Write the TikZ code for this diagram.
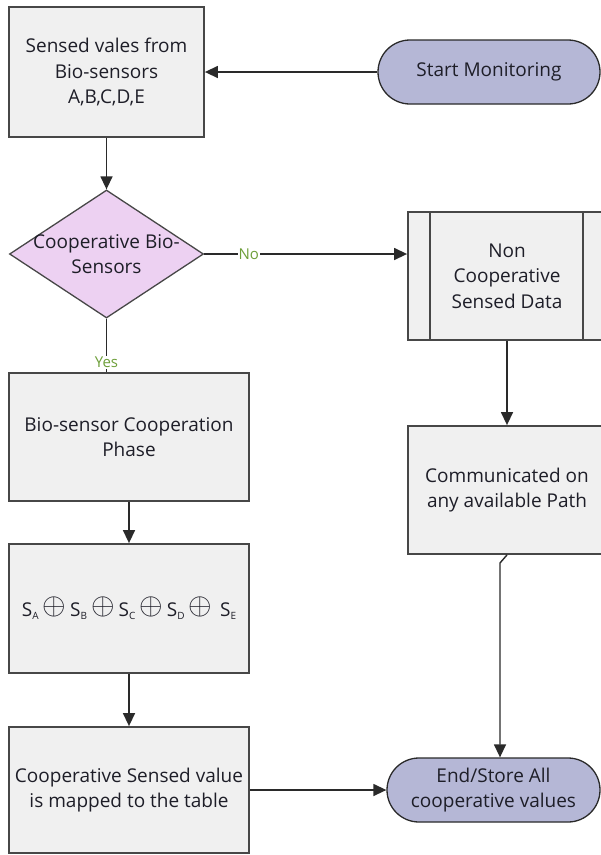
\documentclass[tikz,border=0pt]{standalone}
\usepackage{fontspec}
\setmainfont{Open Sans}
\usetikzlibrary{arrows.meta,shapes.geometric}
\definecolor{boxfill}{HTML}{F0F0F0}
\definecolor{bordc}{HTML}{474747}
\definecolor{termfill}{HTML}{B5B7D6}
\definecolor{diafill}{HTML}{EDD1F2}
\definecolor{labgreen}{HTML}{6E9F3A}
\definecolor{txt}{HTML}{1E1E28}
\definecolor{linec}{HTML}{2A2A2A}
\newcommand{\sbx}[1]{\raisebox{-0.3ex}{\fontsize{10}{10}\selectfont #1}}
\newcommand{\opx}{\hspace{4pt}\raisebox{0.2ex}{\scalebox{1.75}{$\oplus$}}\hspace{4pt}}
\begin{document}
\begin{tikzpicture}[x=1pt,y=-1pt,
  font=\fontsize{19}{25.5}\selectfont,
  proc/.style={draw=bordc, fill=boxfill, line width=1.8pt, rectangle, inner sep=0pt, align=center, text=txt},
  term/.style={draw=linec, fill=termfill, line width=1.3pt, rectangle, inner sep=0pt, align=center, text=txt},
  dia/.style={draw=bordc, fill=diafill, line width=1.3pt, diamond, inner sep=0pt},
  txtc/.style={align=center, text=txt, inner sep=0pt},
  conn/.style={draw=linec, line width=1.4pt},
  arr/.style={conn, -{Triangle[length=13pt,width=12pt]}},
  lab/.style={font=\fontsize{15}{15}\selectfont, text=labgreen, fill=white, inner sep=1pt}]
\clip (0,0) rectangle (601,855);
\fill[white] (0,0) rectangle (601,855);

\node[proc, minimum width=195pt, minimum height=130pt] (b1) at (106.5,72) {Sensed vales from\\Bio-sensors\\A,B,C,D,E};
\node[term, minimum width=222pt, minimum height=64pt, rounded corners=32pt] (start) at (489,72) {Start Monitoring};
\node[dia, minimum width=194pt, minimum height=128pt] (dec) at (106.5,254) {};
\node[txtc] (dectext) at (dec.center) {Cooperative Bio-\\Sensors};
\node[proc, minimum width=198pt, minimum height=128pt] (nc) at (507,276) {Non\\Cooperative\\Sensed Data};
\draw[draw=bordc, line width=1.8pt] ([xshift=23pt]nc.north west) -- ([xshift=23pt]nc.south west);
\draw[draw=bordc, line width=1.8pt] ([xshift=-24pt]nc.north east) -- ([xshift=-24pt]nc.south east);
\node[proc, minimum width=198pt, minimum height=128pt] (comm) at (507,490) {Communicated on\\any available Path};
\node[term, minimum width=213pt, minimum height=64pt, rounded corners=32pt] (end) at (493.5,790) {End/Store All\\cooperative values};
\node[proc, minimum width=240pt, minimum height=128pt] (phase) at (129,437) {Bio-sensor Cooperation\\Phase};
\node[proc, minimum width=240pt, minimum height=129pt] (xor) at (129,608.5) {S\sbx{A}\opx{}S\sbx{B}\opx{}S\sbx{C}\opx{}S\sbx{D}\opx{}\hspace{4pt}S\sbx{E}};
\node[proc, minimum width=240pt, minimum height=126pt] (coop) at (129,790) {Cooperative Sensed value\\is mapped to the table};

\draw[arr] (start.west) -- (b1.east);
\draw[arr] (b1.south) -- (dec.north);
\draw[arr] (dec.east) -- (dec.east -| nc.west) node[lab, pos=0.22] {No};
\draw[conn] (dec.south) -- (phase.north -| dec.south) node[lab, pos=0.82] {Yes};
\draw[arr] (nc.south) -- (comm.north);
\draw[arr] (phase.south) -- (xor.north);
\draw[arr] (xor.south) -- (coop.north);
\coordinate (kink) at (500,563);
\draw[arr] (comm.south) -- (kink) -- (kink |- end.north);
\draw[arr] (coop.east) -- (end.west);
\end{tikzpicture}
\end{document}
